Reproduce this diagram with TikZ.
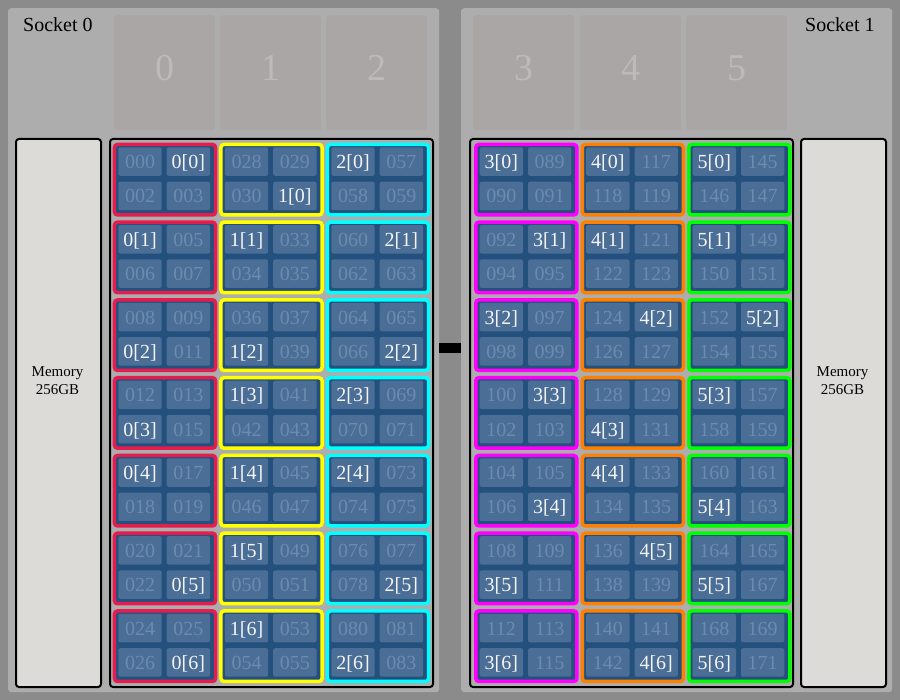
\documentclass[tikz,border=0pt]{standalone}
\usepackage{fontspec}
\setmainfont{Liberation Serif}
\definecolor{bg}{HTML}{8B8B8B}
\definecolor{panel}{HTML}{ADADAD}
\definecolor{hdr}{HTML}{ABA6A6}
\definecolor{hdrtxt}{HTML}{BEBABA}
\definecolor{mem}{HTML}{DDDBD8}
\definecolor{ginner}{HTML}{24507D}
\definecolor{cellc}{HTML}{4A6E96}
\definecolor{dimtxt}{HTML}{6C8BAF}
\definecolor{hitxt}{HTML}{F4F4F4}
\definecolor{gred}{HTML}{E51D4E}
\definecolor{gyellow}{HTML}{FFFF00}
\definecolor{gcyan}{HTML}{00FFFF}
\definecolor{gmagenta}{HTML}{FF00FF}
\definecolor{gorange}{HTML}{FF8000}
\definecolor{ggreen}{HTML}{00FF00}
\tikzset{
  panelbox/.style={fill=panel, rounded corners=3pt, inner sep=0pt, anchor=north west,
    minimum width=431pt, minimum height=684pt},
  hdrbox/.style={fill=hdr, rounded corners=3pt, inner sep=0pt, anchor=north west,
    minimum width=101pt, minimum height=115pt},
  hdrnum/.style={text=hdrtxt, inner sep=0pt, font=\fontsize{38}{44}\selectfont},
  membox/.style={draw=black, line width=2pt, fill=mem, rounded corners=3pt, inner sep=0pt,
    anchor=north west, minimum width=85pt, minimum height=548pt},
  memtxt/.style={align=center, inner sep=0pt, anchor=north, font=\fontsize{15}{18}\selectfont},
  corebox/.style={draw=black, line width=2pt, rounded corners=3pt, inner sep=0pt,
    anchor=north west, minimum width=323pt, minimum height=548pt},
  sockettxt/.style={anchor=base west, inner sep=0pt, font=\fontsize{20}{24}\selectfont},
  grpbox/.style={draw=#1, line width=3.5pt, fill=ginner, rounded corners=3pt, inner sep=0pt,
    anchor=north west, minimum width=101.1pt, minimum height=70.5pt},
  cellbox/.style={fill=cellc, rounded corners=2pt, inner sep=0pt, minimum width=43.4pt,
    minimum height=28.5pt, text height=14pt, text depth=0pt, font=\fontsize{20}{24}\selectfont},
  linkbar/.style={line width=10pt, draw=black}
}
\begin{document}
\begin{tikzpicture}[x=1pt,y=-1pt]
\fill[bg] (0,0) rectangle (900,700);
\useasboundingbox (0,0) rectangle (900,700);
% socket panels
\node[panelbox] (s0) at (8,8) {};
\node[panelbox] (s1) at (461,8) {};
\draw[linkbar] ([yshift=2pt]s0.east) -- ([yshift=2pt]s1.west);
% socket labels
\node[sockettxt] (l0) at (23,32) {Socket 0};
\node[sockettxt] (l1) at (805,32) {Socket 1};
% NUMA header boxes
\foreach \k/\x in {0/114,1/220,2/326,3/473,4/580,5/686}{
  \node[hdrbox] (h\k) at (\x,15) {};
  \node[hdrnum] (hn\k) at (\x+50.5,68) {\k};
}
% memory
\node[membox] (m0) at (15,138) {};
\node[memtxt] (mt0) at (57.5,366.5) {Memory\\256GB};
\node[membox] (m1) at (800,138) {};
\node[memtxt] (mt1) at (842.5,366.5) {Memory\\256GB};
% core containers
\node[corebox] (k0) at (109,138) {};
\node[corebox] (k1) at (469,138) {};
% groups and cells
\foreach \c/\col/\hl in {0/gred/{1,0,2,2,0,3,3},1/gyellow/{3,0,2,0,0,0,0},2/gcyan/{0,1,3,0,0,3,2},
  3/gmagenta/{0,1,0,1,3,2,2},4/gorange/{0,0,1,2,0,1,3},5/ggreen/{0,0,1,0,2,2,2}}{
  \foreach \h [count=\r from 0] in \hl {
    \pgfmathsetmacro\gx{\c<3 ? 112.7+106.5*\c : 474+106.5*(\c-3)}
    \pgfmathsetmacro\gy{142.7+77.75*\r}
    \pgfmathtruncatemacro\base{\c<3 ? 28*\c+4*\r : 88+28*(\c-3)+4*\r}
    \node[grpbox=\col] (g\c-\r) at (\gx,\gy) {};
    \foreach \i in {0,1,2,3}{
      \pgfmathtruncatemacro\n{\base+\i}
      \pgfmathsetmacro\cx{\gx+5.6+48.4*mod(\i,2)+21.7}
      \pgfmathsetmacro\cy{\gy+4.6+34.4*int(\i/2)+14.25}
      \ifnum\i=\h
        \node[cellbox, text=hitxt] (c\c-\r-\i) at (\cx,\cy) {\c[\r]};
      \else
        \node[cellbox, text=dimtxt] (c\c-\r-\i) at (\cx,\cy)
          {\ifnum\n<10 00\n\else\ifnum\n<100 0\n\else\n\fi\fi};
      \fi
    }
  }
}
\end{tikzpicture}
\end{document}
